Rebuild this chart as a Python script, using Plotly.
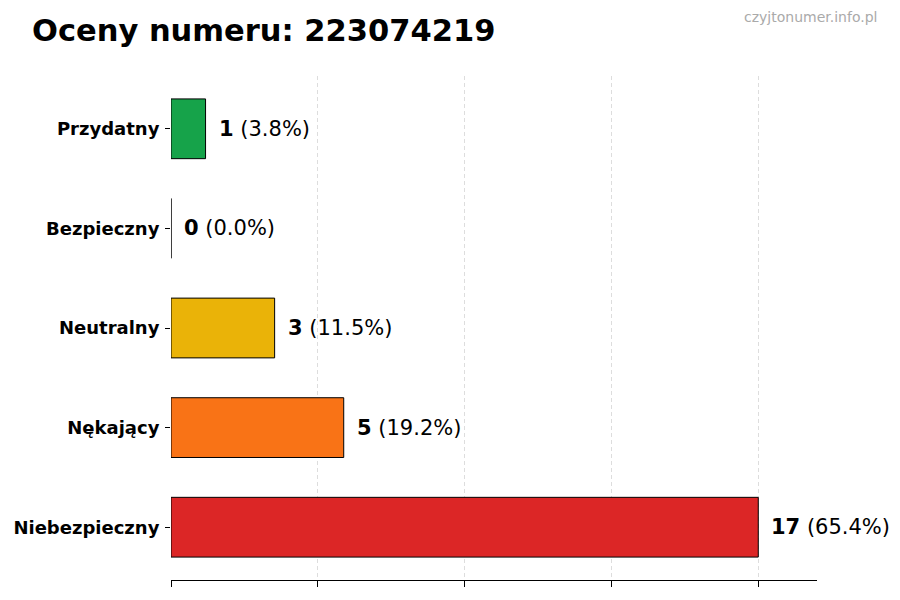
import plotly.graph_objects as go

# Data
categories = ['Niebezpieczny', 'Nękający', 'Neutralny', 'Bezpieczny', 'Przydatny']
counts = [17, 5, 3, 0, 1]
colors = ['#dc2626', '#f97316', '#eab308', '#16a34a', '#16a34a']
total = sum(counts)
max_val = max(counts)

# page is offset by ~8px, compensate in margins
L, R, T, B = 163, 91, 68, 28
W, H = 900, 600
pw, ph = W - L - R, H - T - B

fig = go.Figure()
fig.add_trace(go.Bar(
    y=categories,
    x=counts,
    orientation='h',
    width=0.6,
    marker=dict(color=colors, line=dict(color='black', width=1)),
    hoverinfo='skip',
))

# value labels to the right of each bar
for cat, val in zip(categories, counts):
    pct = 100 * val / total if total else 0
    fig.add_annotation(
        x=val, y=cat, xref='x', yref='y',
        text=f'<b>{val}</b> ({pct:.1f}%)',
        showarrow=False, xanchor='left', xshift=11,
        font=dict(family='DejaVu Sans', size=21, color='black'),
    )

# watermark
fig.add_annotation(
    x=(871 - L) / pw, y=1 + (T - 9) / ph, xref='paper', yref='paper',
    text='czyjtonumer.info.pl', xanchor='right', yanchor='middle',
    showarrow=False, font=dict(family='DejaVu Sans', size=14, color='#aaaaaa'),
)

fig.update_layout(
    width=W, height=H,
    margin=dict(l=L, r=R, t=T, b=B),
    paper_bgcolor='white', plot_bgcolor='white',
    showlegend=False,
    title=dict(
        text='<b>Oceny numeru: 223074219</b>',
        x=24 / W, xanchor='left', y=1 - 22 / H, yanchor='middle',
        font=dict(family='DejaVu Sans', size=30.5, color='black'),
    ),
    font=dict(family='DejaVu Sans'),
)

fig.update_xaxes(
    range=[0, max_val * 1.1],
    tickvals=[max_val * f for f in (0, 0.25, 0.5, 0.75, 1.0)],
    showticklabels=False,
    showgrid=True, gridcolor='#dddddd', griddash='4px,3px', gridwidth=1,
    showline=True, linecolor='black', linewidth=1,
    ticks='outside', ticklen=6, tickcolor='black',
    zeroline=False, automargin=False,
)
fig.update_yaxes(
    categoryorder='array', categoryarray=categories,
    range=[-0.53, 4.53],
    showgrid=False, zeroline=False, showline=False,
    ticks='outside', ticklen=5, tickcolor='black',
    tickfont=dict(family='DejaVu Sans', size=18, color='black', weight='bold'),
    ticklabelstandoff=2, automargin=False,
)

fig.write_html('out.html')
